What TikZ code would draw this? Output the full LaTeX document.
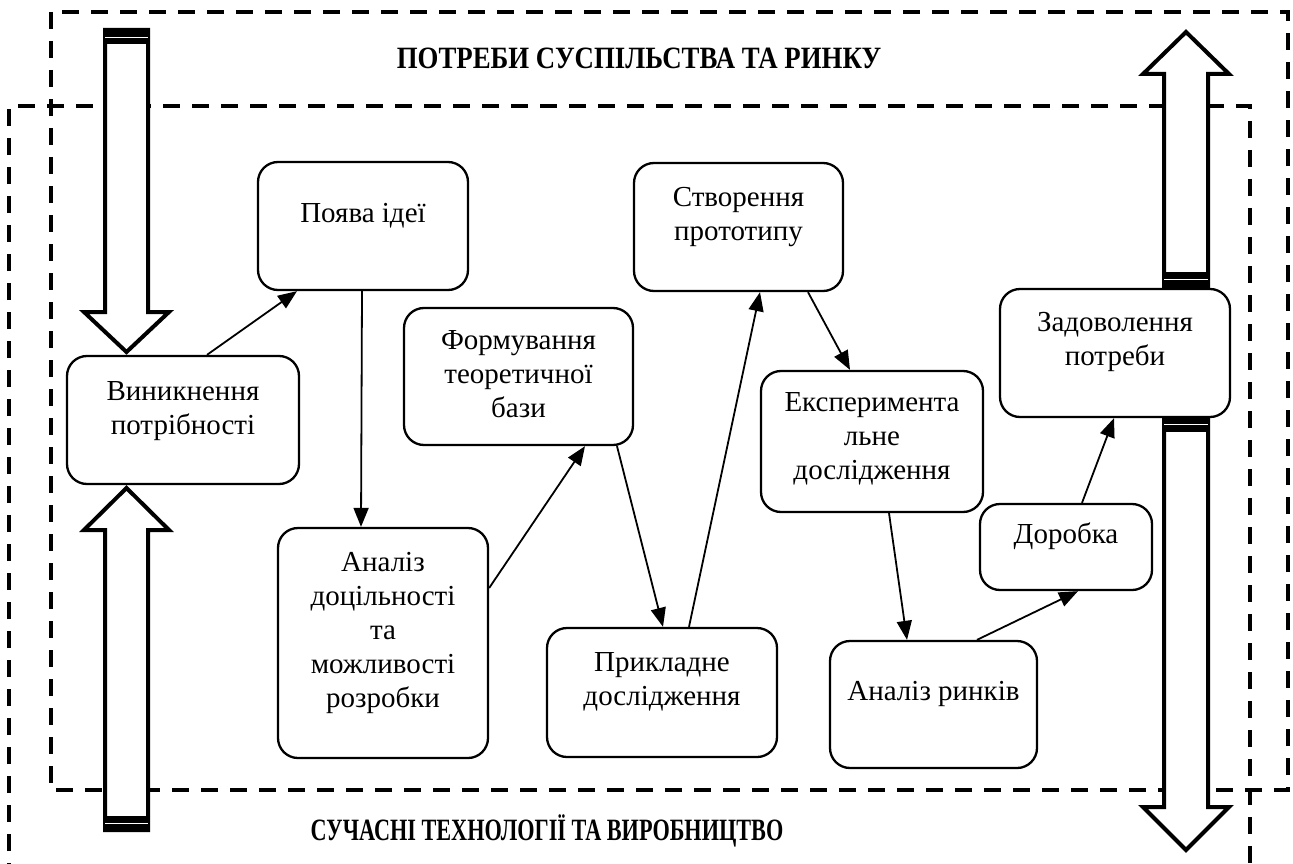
\documentclass[tikz,border=0pt]{standalone}
\usepackage{fontspec}
\usepackage{graphicx}
\setmainfont{Liberation Serif}
\usetikzlibrary{arrows.meta,calc}
\begin{document}
\begin{tikzpicture}[x=1pt,y=-1pt,
  box/.style={draw,line width=2.3pt,rounded corners=20pt,fill=white,inner sep=0pt},
  txt/.style={anchor=north,inner sep=0pt,align=center,font=\fontsize{29}{34}\selectfont},
  conn/.style={line width=1.8pt,-{Triangle[length=19pt,width=15pt]}},
  frame/.style={line width=4pt,dash pattern=on 17pt off 12pt},
  barrow/.style={line width=4pt,fill=white,line join=miter},
  bar/.style={fill=black},
  barline/.style={draw=white,line width=1pt},
  title/.style={anchor=base,inner sep=0pt,font=\bfseries\fontsize{31}{34}\selectfont}]
\useasboundingbox (0,0) rectangle (1293,864);

% dashed frames
\draw[frame] (51,12) rectangle (1288,790);
\draw[frame] (9,880) -- (9,106) -- (1250,106) -- (1250,880);

% block arrows
\draw[barrow] (105,30) -- (105,312) -- (84,312) -- (126.5,352) -- (169,312) -- (148,312) -- (148,30) -- cycle;
\fill[bar] (103,28) rectangle (150,44);
\draw[barline] (105,38) -- (148,38);

\draw[barrow] (105,830) -- (105,530) -- (84,530) -- (126.5,488) -- (169,530) -- (148,530) -- (148,830) -- cycle;
\fill[bar] (103,816) rectangle (150,832);
\draw[barline] (105,823) -- (148,823);

\draw[barrow] (1164,288) -- (1164,74) -- (1143,74) -- (1186,32) -- (1229,74) -- (1208,74) -- (1208,288) -- cycle;
\fill[bar] (1162,272) rectangle (1210,289);
\draw[barline] (1164,279) -- (1208,279);

\draw[barrow] (1164,416) -- (1164,807) -- (1143,807) -- (1186,850) -- (1229,807) -- (1208,807) -- (1208,416) -- cycle;
\fill[bar] (1162,415) rectangle (1210,432);
\draw[barline] (1164,424.5) -- (1208,424.5);

% titles
\node[title] (t1) at (639,69) {\scalebox{0.865}[1]{ПОТРЕБИ СУСПІЛЬСТВА ТА РИНКУ}};
\node[title] (t2) at (547,840) {\scalebox{0.717}[1]{СУЧАСНІ ТЕХНОЛОГІЇ ТА ВИРОБНИЦТВО}};

% boxes
\node[box,minimum width=232pt,minimum height=128pt] (vyn) at (183,420) {};
\node[box,minimum width=210pt,minimum height=128pt] (poy) at (363,226) {};
\node[box,minimum width=229pt,minimum height=137pt] (form) at (518.5,376.5) {};
\node[box,minimum width=210pt,minimum height=230pt] (anal) at (383,643) {};
\node[box,minimum width=230pt,minimum height=129pt] (prykl) at (662,692.5) {};
\node[box,minimum width=209pt,minimum height=128pt] (stvor) at (738.5,227) {};
\node[box,minimum width=222pt,minimum height=141pt] (eksp) at (872,441.5) {};
\node[box,minimum width=207pt,minimum height=127pt] (rynk) at (933.5,704.5) {};
\node[box,minimum width=172pt,minimum height=86pt] (dorob) at (1066,547) {};
\node[box,minimum width=230pt,minimum height=128pt] (zadov) at (1115,353) {};

% texts
\node[txt] (vynt) at ([yshift=-22pt]vyn.north) {\strut Виникнення\\потрібності};
\node[txt] (poyt) at ([yshift=-38pt]poy.north) {\strut Поява ідеї};
\node[txt] (formt) at ([yshift=-19pt]form.north) {\strut Формування\\теоретичної\\бази};
\node[txt] (analt) at ([yshift=-21pt]anal.north) {\strut Аналіз\\доцільності\\та\\можливості\\розробки};
\node[txt] (pryklt) at ([yshift=-21pt]prykl.north) {\strut Прикладне\\дослідження};
\node[txt] (stvort) at ([yshift=-21pt]stvor.north) {\strut Створення\\прототипу};
\node[txt] (ekspt) at ([yshift=-18pt]eksp.north) {\strut Експеримента\\льне\\дослідження};
\node[txt] (rynkt) at ([yshift=-37pt]rynk.north) {\strut Аналіз ринків};
\node[txt] (dorobt) at ([yshift=-17pt]dorob.north) {\strut Доробка};
\node[txt] (zadovt) at ([yshift=-20pt]zadov.north) {\strut Задоволення\\потреби};

% connectors
\draw[conn] ([xshift=24pt]vyn.north) -- ([xshift=-66pt]poy.south);
\draw[conn] ([xshift=-1pt]poy.south) -- ([xshift=-22pt]anal.north);
\draw[conn] ([yshift=55pt]anal.east) -- ([xshift=66.5pt]form.south);
\draw[conn] ([xshift=98.5pt]form.south) -- ([xshift=1pt]prykl.north);
\draw[conn] ([xshift=27pt]prykl.north) -- ([xshift=21.5pt]stvor.south);
\draw[conn] ([xshift=69.5pt]stvor.south) -- ([xshift=-22pt]eksp.north);
\draw[conn] ([xshift=17pt]eksp.south) -- ([xshift=-26.5pt]rynk.north);
\draw[conn] ([xshift=43.5pt]rynk.north) -- ([xshift=12pt]dorob.south);
\draw[conn] ([xshift=16pt]dorob.north) -- ([xshift=-1pt]zadov.south);
\end{tikzpicture}
\end{document}
